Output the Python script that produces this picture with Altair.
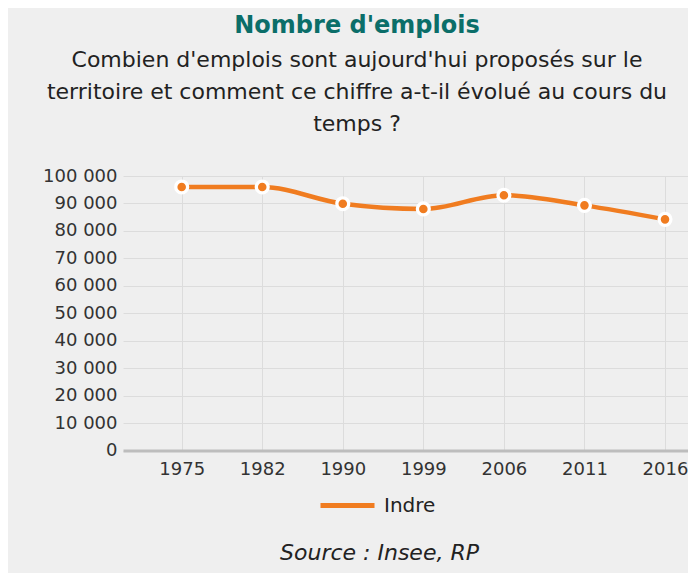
import altair as alt
import pandas as pd

years = ["1975", "1982", "1990", "1999", "2006", "2011", "2016"]
emplois = [96000, 96000, 89900, 88000, 93000, 89300, 84200]
territoire = ["Indre"] * len(years)
y_ticks = list(range(0, 100001, 10000))

title_text = "Nombre d'emplois"
subtitle_lines = [
    "Combien d'emplois sont aujourd'hui proposés sur le",
    "territoire et comment ce chiffre a-t-il évolué au cours du",
    "temps ?",
]
source_text = "Source : Insee, RP"

df = pd.DataFrame({"annee": years, "emplois": emplois, "territoire": territoire})

FONT = "DejaVu Sans"
ORANGE = "#f07c20"
BG = "#efefef"
GRID = "#dcdcdc"

x_enc = alt.X(
    "annee:O",
    sort=years,
    scale=alt.Scale(type="point", padding=0.507, align=0.7185),
    axis=alt.Axis(
        title=source_text,
        labelAngle=0,
        labelFont=FONT,
        labelFontSize=18,
        labelColor="#333333",
        labelPadding=10,
        ticks=False,
        domainColor="#bdbdbd",
        domainWidth=3,
        grid=True,
        gridColor=GRID,
        gridWidth=1,
        titleFont=FONT,
        titleFontSize=22,
        titleFontStyle="italic",
        titleFontWeight="normal",
        titleColor="#222222",
        titleX=256,
        titleY=109,
        titleAlign="center",
        titleBaseline="alphabetic",
    ),
)

y_enc = alt.Y(
    "emplois:Q",
    scale=alt.Scale(domain=[0, 100000], nice=False),
    axis=alt.Axis(
        values=y_ticks,
        labelExpr="replace(format(datum.value, ',d'), regexp(',', 'g'), ' ')",
        title=None,
        domain=False,
        ticks=False,
        labelPadding=6,
        labelFont=FONT,
        labelFontSize=18,
        labelColor="#333333",
        grid=True,
        gridColor=GRID,
        gridWidth=1,
    ),
)

line = alt.Chart(df).mark_line(strokeWidth=4.5, interpolate="monotone").encode(
    x=x_enc,
    y=y_enc,
    color=alt.Color(
        "territoire:N",
        scale=alt.Scale(domain=["Indre"], range=[ORANGE]),
        legend=alt.Legend(
            title=None,
            orient="none",
            legendX=195,
            legendY=300,
            symbolType="stroke",
            symbolSize=2916,
            symbolStrokeWidth=5,
            labelFont=FONT,
            labelFontSize=20,
            labelColor="#222222",
            labelOffset=7,
            padding=0,
        ),
    ),
)

points = alt.Chart(df).mark_point(
    filled=True, shape="circle", size=141, fill=ORANGE, stroke="white", strokeWidth=3.3, opacity=1
).encode(x=x_enc, y=y_enc)

chart = (
    alt.layer(line, points)
    .properties(
        width=565,
        height=274.5,
        title=alt.TitleParams(
            text=title_text,
            subtitle=subtitle_lines,
            font=FONT,
            fontSize=24,
            fontWeight="bold",
            color="#0b6e69",
            subtitleFont=FONT,
            subtitleFontSize=22,
            subtitleColor="#222222",
            subtitleLineHeight=32,
            subtitlePadding=12,
            anchor="middle",
            frame="group",
            dx=-48.5,
            offset=32.5,
        ),
        background=BG,
        padding={"left": 115, "top": 168, "right": 0, "bottom": 122},
        autosize=alt.AutoSizeParams(type="none"),
    )
    .configure_view(stroke=None)
)

chart.save("out.html", embed_options={"renderer": "svg", "actions": False})
